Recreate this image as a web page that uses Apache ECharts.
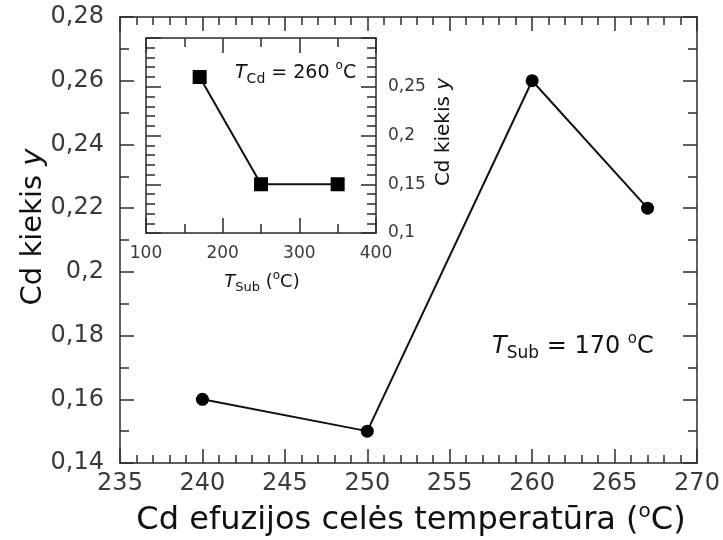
<!DOCTYPE html>
<html>
<head>
<meta charset="utf-8">
<script src="https://cdn.jsdelivr.net/npm/echarts@6/dist/echarts.min.js"></script>
<style>
  html, body { margin: 0; padding: 0; background: #fff; }
  #chart { width: 723px; height: 540px; }
</style>
</head>
<body>
<div id="chart"></div>
<script>
// Cd content vs. Cd effusion cell temperature (substrate at 170 ºC)
const cellTemps = [240, 250, 260, 267];
const cdAmount = [0.16, 0.15, 0.26, 0.22];

// Inset: Cd content vs. substrate temperature (cell at 260 ºC)
const subTemps = [170, 250, 350];
const cdAmountSub = [0.26, 0.15, 0.15];

const mainXTicks = { min: 235, max: 270, interval: 5 };
const mainYTicks = { min: 0.14, max: 0.28, interval: 0.02 };
const insetXTicks = { min: 100, max: 400, interval: 100 };
const insetYTicks = { min: 0.1, max: 0.3, interval: 0.05 };

const FONT = 'DejaVu Sans';
const AXIS_COLOR = '#2b2b2b';
const LABEL_COLOR = '#3a3a3a';

const commaFmt = v => String(Math.round(v * 1000) / 1000).replace('.', ',');

function frameAxis(range, o) {
  return Object.assign({
    type: 'value',
    min: range.min,
    max: range.max,
    interval: range.interval,
    splitLine: { show: false },
    axisLine: { show: true, onZero: false, lineStyle: { color: AXIS_COLOR, width: 1.5 } },
    axisTick: { show: true, inside: true, length: o.tickLen, lineStyle: { color: AXIS_COLOR, width: 1.5 } },
    minorTick: { show: true, splitNumber: o.minorSplit, length: o.minorLen, lineStyle: { color: AXIS_COLOR, width: 1.5 } },
    axisLabel: o.label ? Object.assign({
      show: true, color: LABEL_COLOR, fontFamily: FONT, fontSize: o.fontSize, margin: o.margin
    }, o.label) : { show: false }
  }, o.extra || {});
}

const chart = echarts.init(document.getElementById('chart'), null, { renderer: 'canvas' });

const option = {
  backgroundColor: '#fff',
  animation: false,
  grid: [
    { left: 120, right: 26, top: 17, bottom: 77 },
    { left: 146, right: 347, top: 38, bottom: 307, show: true, backgroundColor: '#fff', borderWidth: 0, z: 5 }
  ],
  xAxis: [
    frameAxis(mainXTicks, { tickLen: 14, minorLen: 8, minorSplit: 5, fontSize: 24, margin: 9, label: {},
      extra: { gridIndex: 0, position: 'bottom' } }),
    frameAxis(mainXTicks, { tickLen: 14, minorLen: 8, minorSplit: 5,
      extra: { gridIndex: 0, position: 'top' } }),
    frameAxis(insetXTicks, { tickLen: 15, minorLen: 9, minorSplit: 2, fontSize: 17, margin: 12, label: {},
      extra: { gridIndex: 1, position: 'bottom', z: 6 } }),
    frameAxis(insetXTicks, { tickLen: 15, minorLen: 9, minorSplit: 2,
      extra: { gridIndex: 1, position: 'top', z: 6 } })
  ],
  yAxis: [
    frameAxis(mainYTicks, { tickLen: 14, minorLen: 9, minorSplit: 2, fontSize: 24, margin: 16,
      label: { formatter: commaFmt }, extra: { gridIndex: 0, position: 'left' } }),
    frameAxis(mainYTicks, { tickLen: 14, minorLen: 9, minorSplit: 2,
      extra: { gridIndex: 0, position: 'right' } }),
    frameAxis(insetYTicks, { tickLen: 15, minorLen: 9, minorSplit: 5, fontSize: 17, margin: 12,
      label: { formatter: commaFmt, showMaxLabel: false }, extra: { gridIndex: 1, position: 'right', z: 6 } }),
    frameAxis(insetYTicks, { tickLen: 15, minorLen: 9, minorSplit: 5,
      extra: { gridIndex: 1, position: 'left', z: 6 } })
  ],
  series: [
    {
      type: 'line',
      xAxisIndex: 0, yAxisIndex: 0,
      data: cellTemps.map((t, i) => [t, cdAmount[i]]),
      symbol: 'circle', symbolSize: 13,
      lineStyle: { color: '#111', width: 2 },
      itemStyle: { color: '#000' },
      z: 3
    },
    {
      type: 'line',
      xAxisIndex: 2, yAxisIndex: 2,
      data: subTemps.map((t, i) => [t, cdAmountSub[i]]),
      symbol: 'rect', symbolSize: 14,
      lineStyle: { color: '#111', width: 2 },
      itemStyle: { color: '#000' },
      z: 7
    }
  ],
  graphic: [
    {
      type: 'text', x: 33, y: 227, rotation: Math.PI / 2, z: 10,
      style: {
        text: '{n|Cd kiekis }{i|y}', align: 'center', verticalAlign: 'middle', fill: '#111',
        rich: {
          n: { fontFamily: FONT, fontSize: 29, fill: '#111' },
          i: { fontFamily: FONT, fontSize: 29, fontStyle: 'italic', fill: '#111' }
        }
      }
    },
    {
      type: 'text', x: 411, y: 521, z: 10,
      style: {
        text: '{n|Cd efuzijos celės temperatūra (}{o|o}{n|C)}', align: 'center', verticalAlign: 'middle', fill: '#111',
        rich: {
          n: { fontFamily: FONT, fontSize: 32, lineHeight: 38, fill: '#111' },
          o: { fontFamily: FONT, fontSize: 20, lineHeight: 38, verticalAlign: 'top', fill: '#111' }
        }
      }
    },
    {
      type: 'text', x: 492, y: 347, z: 10,
      style: {
        text: '{t|T}{s|Sub}{n| = 170 }{o|o}{n|C}', align: 'left', verticalAlign: 'middle', fill: '#111',
        rich: {
          t: { fontFamily: FONT, fontSize: 24, fontStyle: 'italic', lineHeight: 30, fill: '#111' },
          s: { fontFamily: FONT, fontSize: 17, lineHeight: 30, verticalAlign: 'bottom', fill: '#111' },
          n: { fontFamily: FONT, fontSize: 24, lineHeight: 30, fill: '#111' },
          o: { fontFamily: FONT, fontSize: 15, lineHeight: 30, verticalAlign: 'top', fill: '#111' }
        }
      }
    },
    {
      type: 'text', x: 235, y: 73, z: 10,
      style: {
        text: '{t|T}{s|Cd}{n| = 260 }{o|o}{n|C}', align: 'left', verticalAlign: 'middle', fill: '#111',
        rich: {
          t: { fontFamily: FONT, fontSize: 19, fontStyle: 'italic', lineHeight: 26, fill: '#111' },
          s: { fontFamily: FONT, fontSize: 14, lineHeight: 26, verticalAlign: 'bottom', fill: '#111' },
          n: { fontFamily: FONT, fontSize: 19, lineHeight: 26, fill: '#111' },
          o: { fontFamily: FONT, fontSize: 12, lineHeight: 26, verticalAlign: 'top', fill: '#111' }
        }
      }
    },
    {
      type: 'text', x: 262, y: 282, z: 10,
      style: {
        text: '{t|T}{s|Sub}{n| (}{o|o}{n|C)}', align: 'center', verticalAlign: 'middle', fill: '#111',
        rich: {
          t: { fontFamily: FONT, fontSize: 18, fontStyle: 'italic', lineHeight: 24, fill: '#111' },
          s: { fontFamily: FONT, fontSize: 13, lineHeight: 24, verticalAlign: 'bottom', fill: '#111' },
          n: { fontFamily: FONT, fontSize: 18, lineHeight: 24, fill: '#111' },
          o: { fontFamily: FONT, fontSize: 12, lineHeight: 24, verticalAlign: 'top', fill: '#111' }
        }
      }
    },
    {
      type: 'text', x: 444, y: 132, rotation: Math.PI / 2, z: 10,
      style: {
        text: '{n|Cd kiekis }{i|y}', align: 'center', verticalAlign: 'middle', fill: '#111',
        rich: {
          n: { fontFamily: FONT, fontSize: 20, fill: '#111' },
          i: { fontFamily: FONT, fontSize: 20, fontStyle: 'italic', fill: '#111' }
        }
      }
    }
  ]
};

chart.setOption(option);
</script>
</body>
</html>
